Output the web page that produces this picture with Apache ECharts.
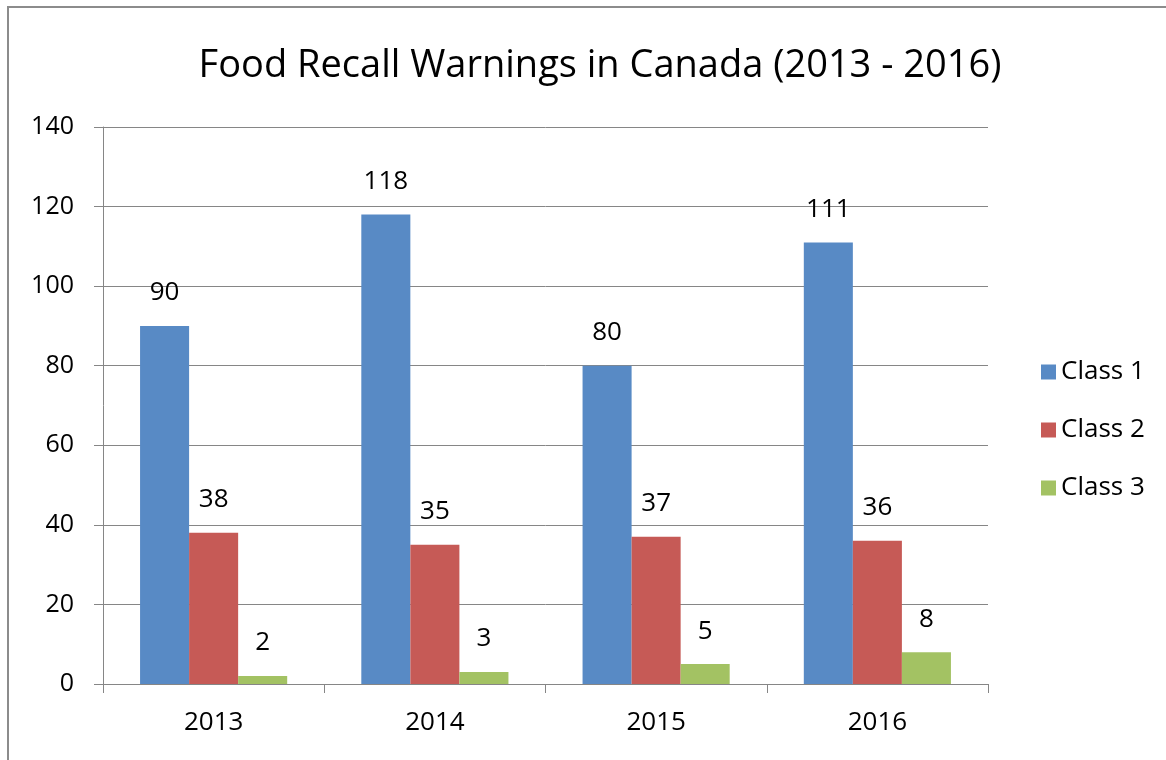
<!DOCTYPE html>
<html lang="en">

<head>
  <meta charset="UTF-8">
  <title>Food Recall Warnings in Canada</title>
  <script src="https://cdn.jsdelivr.net/npm/echarts@6/dist/echarts.min.js"></script>
  <style>
    html, body { margin: 0; padding: 0; background: #fff; }
    #main { width: 1166px; height: 760px; }
  </style>
</head>

<body>
  <div id="main"></div>
  <script>
    // data
    const years = ['2013', '2014', '2015', '2016']
    const class1 = [90, 118, 80, 111]
    const class2 = [38, 35, 37, 36]
    const class3 = [2, 3, 5, 8]
    const yTicks = { min: 0, max: 140, interval: 20 }

    const font = 'Open Sans'
    const colors = ['#588AC5', '#C65A56', '#A3C263']

    const myChart = echarts.init(document.querySelector('#main'))

    function bar(name, data) {
      return {
        name: name,
        type: 'bar',
        data: data,
        barGap: 0,
        barCategoryGap: '33.5%',
        label: {
          show: true,
          position: 'top',
          distance: 20,
          color: '#000',
          fontFamily: font,
          fontSize: 26
        }
      }
    }

    let option = {
      color: colors,
      animation: false,
      title: {
        text: 'Food Recall Warnings in Canada (2013 - 2016)',
        left: 595,
        textAlign: 'center',
        top: 42,
        textStyle: { fontFamily: font, fontSize: 38, fontWeight: 'normal', color: '#000' }
      },
      legend: {
        orient: 'vertical',
        left: 1036,
        top: 354,
        itemWidth: 15,
        itemHeight: 15,
        itemGap: 32,
        icon: 'rect',
        textStyle: { fontFamily: font, fontSize: 26, color: '#000' },
        data: ['Class 1', 'Class 2', 'Class 3']
      },
      grid: { left: 103, right: 178, top: 127, bottom: 76 },
      xAxis: {
        type: 'category',
        data: years,
        axisLine: { lineStyle: { color: '#868686' } },
        axisTick: { show: true, length: 9, lineStyle: { color: '#868686' } },
        axisLabel: { fontFamily: font, fontSize: 26, color: '#000', margin: 26 }
      },
      yAxis: {
        type: 'value',
        min: yTicks.min,
        max: yTicks.max,
        interval: yTicks.interval,
        axisLine: { show: true, lineStyle: { color: '#868686' } },
        axisTick: { show: true, length: 9, lineStyle: { color: '#868686' } },
        splitLine: { lineStyle: { color: '#868686' } },
        axisLabel: { fontFamily: font, fontSize: 25, color: '#000', margin: 29 }
      },
      graphic: [{
        type: 'rect',
        shape: { x: 8, y: 7, width: 1200, height: 800 },
        style: { fill: 'none', stroke: '#8c8c8c', lineWidth: 2 },
        silent: true
      }],
      series: [
        bar('Class 1', class1),
        bar('Class 2', class2),
        bar('Class 3', class3)
      ]
    };

    myChart.setOption(option);
  </script>
</body>

</html>
